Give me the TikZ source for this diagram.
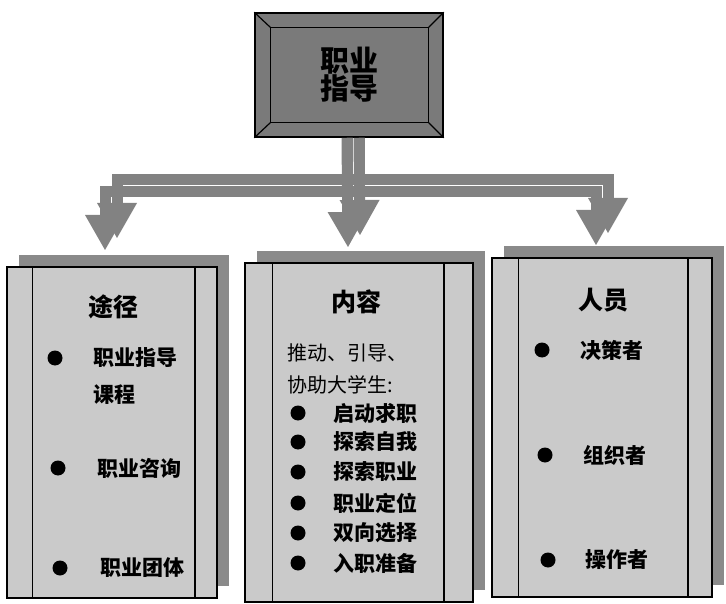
\documentclass[tikz,border=0pt]{standalone}
\usepackage{fontspec}
\newfontfamily\cjk{Noto Sans CJK SC}
\usetikzlibrary{arrows.meta,shadows,positioning}
\definecolor{boxgray}{RGB}{122,122,122}
\definecolor{arrowgray}{RGB}{130,130,130}
\definecolor{panelgray}{RGB}{202,202,202}
\definecolor{shadegray}{RGB}{138,138,138}
\tikzset{
    panel/.style={draw=black, line width=1.5pt, fill=panelgray, inner sep=0pt,
        general shadow={draw=none, fill=shadegray, shadow xshift=12pt, shadow yshift=12pt}},
    bar/.style={draw=arrowgray, line width=11pt, line join=miter,
        -{Triangle[width=40pt,length=35pt,line width=0pt]}},
    title/.style={font=\cjk\bfseries\fontsize{25pt}{27pt}\selectfont, inner sep=0pt},
    item/.style={font=\cjk\bfseries\fontsize{21pt}{25pt}\selectfont, inner sep=0pt, anchor=west},
    dot/.style={circle, fill=black, minimum size=15pt, inner sep=0pt},
}
\begin{document}
\begin{tikzpicture}[x=1pt,y=-1pt]
        \useasboundingbox[fill=white] (0,0) rectangle (726,604);

        % top box
        \node[draw=black, line width=1.5pt, fill=boxgray, minimum width=188pt, minimum height=124pt,
            align=center, font=\cjk\bfseries\fontsize{29pt}{28pt}\selectfont] (guide) at (349,75) {职业\\指导};
        \draw[line width=1.2pt] ([shift={(16pt,-15pt)}]guide.north west) rectangle ([shift={(-15pt,15pt)}]guide.south east);
        \draw[line width=1.2pt] (guide.north west) -- ([shift={(16pt,-15pt)}]guide.north west);
        \draw[line width=1.2pt] (guide.north east) -- ([shift={(-15pt,-15pt)}]guide.north east);
        \draw[line width=1.2pt] (guide.south west) -- ([shift={(16pt,15pt)}]guide.south west);
        \draw[line width=1.2pt] (guide.south east) -- ([shift={(-15pt,15pt)}]guide.south east);

        % panels
        \node[panel, minimum width=210pt, minimum height=331pt] (way) at (112,432.5) {};
        \node[panel, minimum width=228pt, minimum height=339pt] (content) at (359,432.5) {};
        \node[panel, minimum width=220pt, minimum height=339pt] (staff) at (602,427.5) {};
        \foreach \p/\a/\b in {way/26/23, content/28/30, staff/27/25}
        {
            \draw[line width=1.5pt] ([xshift=\a pt]\p.north west) -- ([xshift=\a pt]\p.south west);
            \draw[line width=1.5pt] ([xshift=-\b pt]\p.north east) -- ([xshift=-\b pt]\p.south east);
        }

        % arrows
        \coordinate (wayTip) at (105,250);
        \coordinate (contentTip) at (348,247);
        \coordinate (staffTip) at (596,245);
        \foreach \s in {1,0}
        {
            \draw[bar] ([shift={(-2pt+12pt*\s,0pt)}]guide.south) -- ([shift={(12pt*\s,12pt*\s)}]contentTip);
            \draw[bar] ([shift={(-2pt+12pt*\s,0pt)}]guide.south) |- ([shift={(12pt*\s,12pt*\s)}]wayTip |- 0,192)
                -- ([shift={(12pt*\s,12pt*\s)}]wayTip);
            \draw[bar] ([shift={(-2pt+12pt*\s,0pt)}]guide.south) |- ([shift={(12pt*\s,12pt*\s)}]staffTip |- 0,192)
                -- ([shift={(12pt*\s,12pt*\s)}]staffTip);
        }

        % way
        \node[title] (wayTitle) at (113,307) {途径};
        \node[dot] (wayDot1) at (55,358) {};
        \node[item] (wayItem1) at (93,358) {职业指导};
        \node[item] (wayItem1b) at (93,395) {课程};
        \node[dot] (wayDot2) at (58,468) {};
        \node[item] (wayItem2) at (97,468) {职业咨询};
        \node[dot] (wayDot3) at (60,568) {};
        \node[item] (wayItem3) at (100,568) {职业团体};

        % content
        \node[title] (contentTitle) at (356,302) {内容};
        \node[item, font=\cjk\fontsize{20pt}{25pt}\selectfont] (contentIntro1) at (287,353) {推动、引导、};
        \node[item, font=\cjk\fontsize{20pt}{25pt}\selectfont] (contentIntro2) at (287,385) {协助大学生:};
        \foreach \y/\t in {413/启动求职, 442/探索自我, 472/探索职业, 503/职业定位, 533/双向选择, 563/入职准备}
        {
            \node[dot] (contentDot\y) at (298,\y) {};
            \node[item] (contentItem\y) at (333,\y) {\t};
        }

        % staff
        \node[title] (staffTitle) at (603,300) {人员};
        \node[dot] (staffDot1) at (542,350) {};
        \node[item] (staffItem1) at (580,350) {决策者};
        \node[dot] (staffDot2) at (545,455) {};
        \node[item] (staffItem2) at (583,455) {组织者};
        \node[dot] (staffDot3) at (548,560) {};
        \node[item] (staffItem3) at (585,560) {操作者};
\end{tikzpicture}
\end{document}
